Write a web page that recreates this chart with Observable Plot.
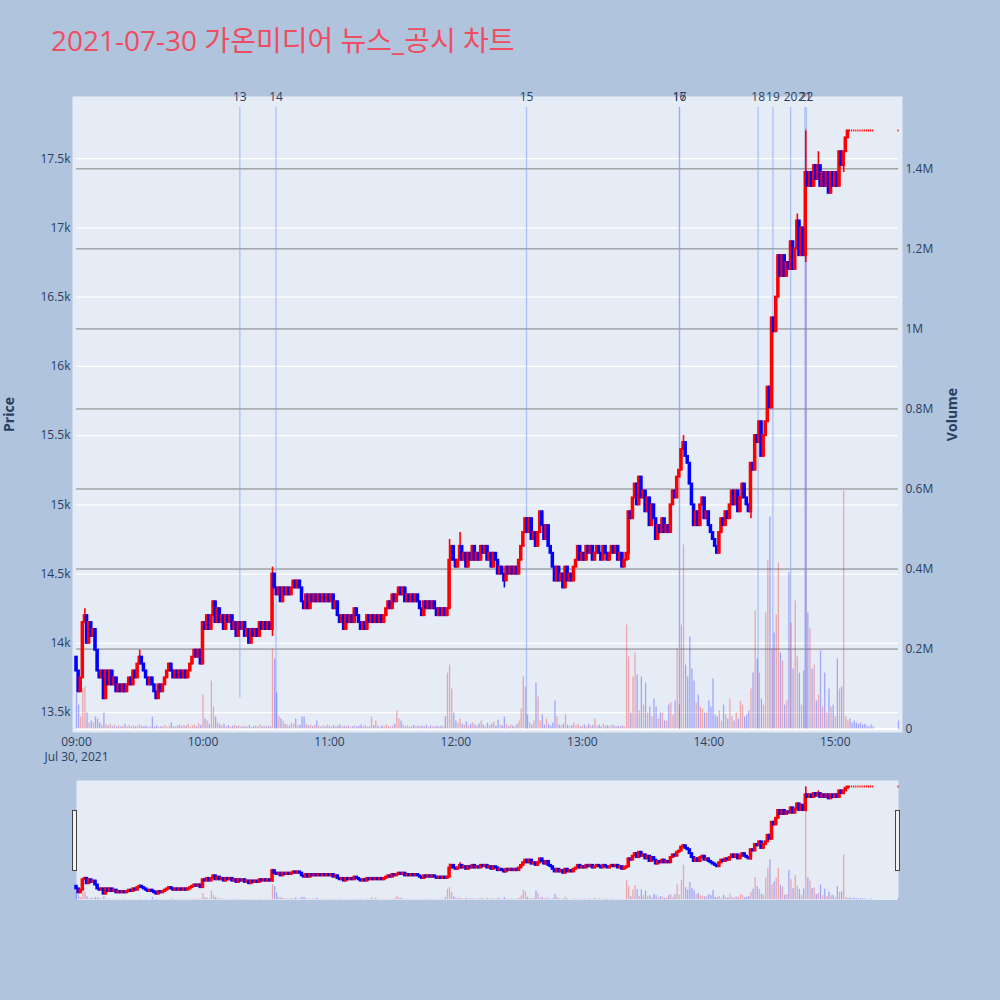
<!DOCTYPE html>
<html>
<head>
<meta charset="utf-8">
<script src="https://cdn.jsdelivr.net/npm/d3@7"></script>
<script src="https://cdn.jsdelivr.net/npm/@observablehq/plot@0.6"></script>
<style>
  body { margin: 0; background: #b0c4de; }
  #wrap { position: relative; width: 1000px; height: 1000px; background: #b0c4de;
          font-family: "Open Sans", "Noto Sans CJK KR", sans-serif; }
  #title { position: absolute; left: 51px; top: 26px; font-size: 28px; line-height: 1;
           color: #ee4d61; white-space: nowrap; }
  #main { position: absolute; left: 0; top: 0; }
  #slider { position: absolute; left: 0; top: 780px; }
  .handle { position: absolute; top: 810px; width: 3px; height: 59px; background: #f2f2f2;
            border: 1px solid #444; }
</style>
</head>
<body>
<div id="wrap">
  <div id="title">2021-07-30 가온미디어 뉴스_공시 차트</div>
  <div id="main"></div>
  <div id="slider"></div>
  <div class="handle" style="left:72px"></div>
  <div class="handle" style="left:895px"></div>
</div>
<script>
// 1-minute closes from 09:00 (open of the first bar given separately)
const firstOpen = 13900;
const closes = [
  13800,13650,13750,14150,14200,14000,14150,14050,14100,13950,
  13800,13750,13800,13600,13800,13700,13800,13700,13750,13650,
  13700,13650,13700,13650,13700,13750,13700,13800,13750,13850,
  13900,13850,13800,13750,13700,13750,13700,13650,13600,13700,
  13650,13700,13750,13800,13850,13800,13750,13800,13750,13800,
  13750,13800,13750,13800,13850,13900,13950,13900,13950,13850,
  14150,14100,14200,14100,14200,14300,14150,14250,14150,14200,
  14100,14200,14150,14200,14100,14150,14050,14150,14100,14150,
  14050,14100,14000,14100,14050,14100,14050,14150,14100,14150,
  14100,14150,14100,14500,14400,14350,14400,14300,14400,14350,
  14400,14350,14400,14450,14400,14450,14400,14300,14250,14350,
  14250,14350,14300,14350,14300,14350,14300,14350,14300,14350,
  14300,14350,14250,14300,14200,14150,14200,14100,14200,14150,
  14200,14150,14250,14200,14150,14100,14150,14100,14200,14150,
  14200,14150,14200,14150,14200,14150,14200,14250,14300,14250,
  14350,14300,14350,14400,14350,14400,14300,14350,14300,14350,
  14300,14350,14300,14250,14200,14300,14250,14300,14250,14300,
  14250,14200,14250,14200,14250,14200,14250,14600,14700,14600,
  14550,14600,14700,14600,14650,14550,14650,14600,14700,14600,
  14650,14600,14700,14650,14700,14600,14650,14550,14650,14600,
  14500,14550,14500,14450,14550,14500,14550,14500,14550,14500,
  14600,14700,14800,14900,14800,14900,14750,14800,14700,14800,
  14950,14850,14750,14850,14700,14650,14550,14450,14550,14450,
  14500,14400,14550,14450,14500,14450,14550,14600,14700,14600,
  14650,14600,14700,14650,14700,14600,14650,14700,14650,14600,
  14700,14650,14600,14650,14700,14650,14700,14600,14650,14550,
  14600,14650,14950,14900,15050,15150,15000,15200,15050,15100,
  14950,15050,14850,15000,14900,14750,14850,14800,14900,14800,
  14850,14800,15000,15100,15050,15200,15250,15400,15450,15350,
  15300,15150,15000,14850,14950,14850,15000,15050,14900,14950,
  14850,14800,14750,14700,14650,14800,14900,14850,14950,14900,
  15000,15100,15000,15100,14950,15050,15150,15050,15000,14950,
  15300,15250,15500,15450,15600,15350,15500,15600,15850,15700,
  16350,16250,16500,16800,16650,16800,16650,16750,16700,16900,
  16700,16850,17050,16800,17000,16800,17400,17300,17400,17300,
  17450,17350,17450,17300,17400,17300,17400,17250,17400,17300,
  17400,17300,17550,17450,17550,17650,17700,17700,17700,17700,
  17700,17700,17700,17700,17700,17700,17700,17700,17700
];
// volume per minute, thousand shares
const volumes = [
  90,60,30,100,105,40,15,20,15,30,
  25,15,10,40,10,8,12,6,10,5,
  8,5,7,12,6,9,5,8,6,7,
  10,6,5,8,4,6,30,5,8,4,
  6,5,9,4,7,15,6,5,8,10,
  6,9,7,12,5,8,10,6,14,9,
  85,25,20,12,120,55,30,15,10,8,
  12,6,9,5,7,10,6,8,5,7,
  6,5,9,4,6,8,5,10,6,7,
  5,8,6,200,175,90,30,25,20,12,
  10,8,15,12,25,8,10,30,30,12,
  8,10,6,9,20,7,5,8,6,10,
  7,5,9,6,8,10,5,7,6,8,
  5,6,8,5,7,10,6,8,5,6,
  30,9,20,7,5,8,6,10,7,5,
  8,12,45,25,20,10,6,8,5,7,
  9,6,8,5,7,6,10,5,8,6,
  5,7,6,8,5,30,140,160,100,40,
  20,15,25,12,10,18,8,12,15,10,
  8,12,20,10,6,15,9,12,18,7,
  22,10,8,30,12,6,10,8,5,12,
  20,50,130,105,35,15,10,20,115,80,
  20,35,10,25,12,8,15,70,30,10,
  8,12,35,10,6,9,15,8,12,6,
  8,10,6,12,7,9,25,8,10,6,
  12,7,9,6,10,8,5,7,6,8,
  5,260,180,40,130,190,135,45,130,60,
  115,40,55,30,75,55,25,40,40,20,
  20,60,65,35,70,200,60,260,460,160,
  130,230,150,120,65,85,55,50,40,40,
  70,55,125,35,30,45,20,60,35,25,
  75,30,20,40,25,70,60,30,35,45,
  100,140,295,175,140,75,60,290,420,530,
  200,240,285,415,190,170,60,70,390,265,
  150,320,180,140,60,145,1500,290,250,150,
  160,70,85,195,55,140,40,100,55,60,
  30,175,100,105,595,30,20,25,15,20,
  15,12,15,10,12,8,5,10,5
];
// closing auction bar at 15:30
const auctionMinute = 390, auctionClose = 17700, auctionVolume = 20;
// wicks beyond the body: minute -> price
const wickHigh = {4: 14250, 30: 13950, 93: 14550, 177: 14750, 182: 14800, 288: 15500, 342: 17100, 346: 17700, 352: 17550};
const wickLow = {93: 14050, 203: 14400, 262: 14600, 304: 14650, 320: 14900, 346: 16750, 364: 17400};

// news/disclosure markers
const newsLabels = ["13", "14", "15", "16", "17", "18", "19", "20", "21", "22"];
const newsTimes = ["10:17:30", "10:34:39", "12:33:30", "13:46:06", "13:46:06", "14:23:24", "14:30:24", "14:38:48", "14:45:36", "14:46:18"];

const priceTicks = [13500, 14000, 14500, 15000, 15500, 16000, 16500, 17000, 17500];
const volTicks = [0, 200, 400, 600, 800, 1000, 1200, 1400];
const hourTicks = ["09:00", "10:00", "11:00", "12:00", "13:00", "14:00", "15:00"];

const priceDomain = [13356, 17949];
const volDomain = [-8.5, 1580.8];
const volToPrice = d3.scaleLinear().domain(volDomain).range(priceDomain);

const t0 = new Date(2021, 6, 30, 9, 0, 0);
const at = m => new Date(+t0 + m * 60000);
const parseT = s => { const [h, mi, se] = s.split(":").map(Number); return new Date(2021, 6, 30, h, mi, se || 0); };

const rows = closes.map((c, i) => ({m: i, close: c, volume: volumes[i]}));
rows.push({m: auctionMinute, close: auctionClose, volume: auctionVolume});

const candles = rows.map((r, i) => {
  const open = i === 0 ? firstOpen : rows[i - 1].close;
  const high = Math.max(open, r.close, wickHigh[r.m] ?? -Infinity);
  const low = Math.min(open, r.close, wickLow[r.m] ?? Infinity);
  return {date: at(r.m), open, close: r.close, high, low, volume: r.volume,
          up: r.close >= open, flat: r.close === open, volUp: r.close > open};
});

const news = newsLabels.map((l, i) => ({label: l, date: parseT(newsTimes[i]), to: l === "13" ? 13606 : volToPrice(0)}));
const newsTop = 17869;

const RED = "#ff0000", BLUE = "#0000ff";
const half = d => (d.flat ? 16 : 50) * 1000;

function chartMarks() {
  return [
    Plot.ruleX(candles, {x: "date", y1: () => volToPrice(0), y2: d => volToPrice(d.volume),
      stroke: d => d.volUp ? RED : BLUE, strokeOpacity: 0.3, strokeWidth: 1.3}),
    Plot.ruleX(candles, {x: "date", y1: "low", y2: "high", stroke: d => d.up ? RED : BLUE, strokeWidth: 1.6}),
    Plot.rect(candles, {x1: d => new Date(+d.date - half(d)), x2: d => new Date(+d.date + half(d)),
      y1: "open", y2: "close", fill: d => d.up ? RED : BLUE, insetTop: -1, insetBottom: -1})
  ];
}

const fmtVol = p => { const v = Math.round(volToPrice.invert(p) / 100) / 10; return v === 0 ? "0" : v + "M"; };

const main = Plot.plot({
  width: 1000, height: 770,
  marginLeft: 76, marginRight: 102, marginTop: 96, marginBottom: 38,
  style: {background: "transparent", color: "#2a3f5f", fontFamily: "'Open Sans', sans-serif", fontSize: "12px"},
  x: {type: "time", domain: [at(0), at(390)]},
  y: {domain: priceDomain},
  marks: [
    Plot.frame({fill: "#e5ecf6", stroke: "none", insetLeft: -4, insetRight: -4}),
    Plot.ruleY(priceTicks, {stroke: "white", strokeWidth: 1.2}),
    Plot.ruleY(volTicks.slice(1).map(volToPrice), {stroke: "#808080", strokeWidth: 1}),
    Plot.ruleY([volToPrice(0)], {stroke: "white", strokeWidth: 2}),
    Plot.ruleX(news, {x: "date", y1: "to", y2: () => newsTop, stroke: "#7f9cf5", strokeOpacity: 0.55, strokeWidth: 1.3}),
    ...chartMarks(),
    Plot.text(news, {x: "date", y: () => priceDomain[1], text: "label", fill: "#2a3f5f", fontSize: 12, dy: 1}),
    Plot.axisY(priceTicks, {anchor: "left", tickSize: 0, tickPadding: 6, tickFormat: d3.format("~s"), fontSize: 12, label: null}),
    Plot.axisY(volTicks.map(volToPrice), {anchor: "right", tickSize: 0, tickPadding: 7, tickFormat: fmtVol, fontSize: 12, label: null}),
    Plot.axisX(hourTicks.map(parseT), {anchor: "bottom", tickSize: 0, tickPadding: 5, tickFormat: d3.timeFormat("%H:%M"), fontSize: 12, label: null}),
    Plot.text(["Jul 30, 2021"], {x: () => t0, frameAnchor: "bottom", dy: 20, lineAnchor: "top", fill: "#2a3f5f", fontSize: 12}),
    Plot.text(["Price"], {frameAnchor: "left", dx: -67, rotate: -90, textAnchor: "middle", fill: "#2a3f5f", fontSize: 14, fontWeight: "bold"}),
    Plot.text(["Volume"], {frameAnchor: "right", dx: 54, rotate: -90, textAnchor: "middle", fill: "#2a3f5f", fontSize: 14, fontWeight: "bold"})
  ]
});
document.getElementById("main").append(main);

const slider = Plot.plot({
  width: 1000, height: 120,
  marginLeft: 76, marginRight: 102, marginTop: 0, marginBottom: 0,
  style: {background: "transparent"},
  x: {type: "time", domain: [at(0), at(390)], axis: null},
  y: {domain: priceDomain, axis: null},
  marks: [
    Plot.frame({fill: "#e5ecf6", stroke: "none"}),
    ...chartMarks()
  ]
});
document.getElementById("slider").append(slider);
</script>
</body>
</html>
